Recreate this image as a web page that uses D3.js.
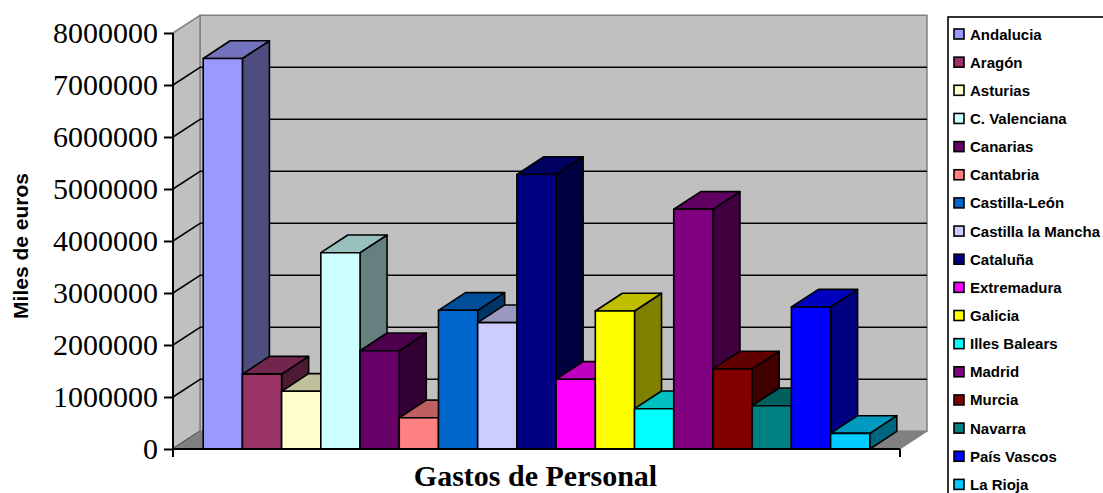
<!DOCTYPE html>
<html>
<head>
<meta charset="utf-8">
<script src="https://cdn.jsdelivr.net/npm/d3@7"></script>
<style>
  body { margin: 0; background: #fff; }
  svg { display: block; }
</style>
</head>
<body>
<div id="chart"></div>
<script>
// data
var regions = ["Andalucia", "Aragón", "Asturias", "C. Valenciana", "Canarias", "Cantabria",
    "Castilla-León", "Castilla la Mancha", "Cataluña", "Extremadura", "Galicia",
    "Illes Balears", "Madrid", "Murcia", "Navarra", "País Vascos", "La Rioja"];
var values = [7510000, 1440000, 1110000, 3775000, 1890000, 600000,
    2667000, 2430000, 5280000, 1340000, 2654000,
    775000, 4610000, 1540000, 833000, 2730000, 300000];
var colors = ["#9999ff", "#993366", "#ffffcc", "#ccffff", "#660066", "#ff8080",
    "#0066cc", "#ccccff", "#000080", "#ff00ff", "#ffff00",
    "#00ffff", "#800080", "#800000", "#008080", "#0000ff", "#00ccff"];
var yTicks = [0, 1000000, 2000000, 3000000, 4000000, 5000000, 6000000, 7000000, 8000000];
var category = "Gastos de Personal";
var yTitle = "Miles de euros";

var width = 1103, height = 493;
var left = 173, right = 900, floorY = 449, topY = 33;
var dx = 27, dy = -17.7; // 3d depth offset

var svg = d3.select("#chart").append("svg")
    .attr("width", width)
    .attr("height", height);

var x = d3.scaleBand()
    .domain(regions)
    .range([left, right])
    .paddingInner(0)
    .paddingOuter(0.77);

var y = d3.scaleLinear()
    .domain([0, 8000000])
    .range([floorY, topY]);

function pts(a) {
    return a.map(function (p) { return p.join(","); }).join(" ");
}
function shade(c, k) {
    var r = d3.rgb(c);
    return d3.rgb(r.r * k, r.g * k, r.b * k).formatHex();
}

// walls
var yMax = y(8000000), y0 = y(0);
svg.append("polygon") // back wall
    .attr("points", pts([[left + dx, yMax + dy], [right + dx, yMax + dy], [right + dx, y0 + dy], [left + dx, y0 + dy]]))
    .attr("fill", "#c0c0c0").attr("stroke", "#808080").attr("stroke-width", 1.5);
svg.append("polygon") // side wall
    .attr("points", pts([[left, yMax], [left + dx, yMax + dy], [left + dx, y0 + dy], [left, y0]]))
    .attr("fill", "#c0c0c0").attr("stroke", "#808080").attr("stroke-width", 1.5);

// gridlines on back and side walls
yTicks.forEach(function (t) {
    if (t > 0 && t < 8000000) {
        svg.append("line")
            .attr("x1", left + dx).attr("x2", right + dx)
            .attr("y1", y(t) + dy).attr("y2", y(t) + dy)
            .attr("stroke", "#000").attr("stroke-width", 1.5);
    }
    if (t < 8000000) {
        svg.append("line")
            .attr("x1", left).attr("x2", left + dx)
            .attr("y1", y(t)).attr("y2", y(t) + dy)
            .attr("stroke", "#000").attr("stroke-width", 1.5);
    }
});

// floor
svg.append("polygon")
    .attr("points", pts([[left, y0], [right, y0], [right + dx, y0 + dy], [left + dx, y0 + dy]]))
    .attr("fill", "#808080").attr("stroke", "#808080").attr("stroke-width", 1);

// bars, left to right so each one covers the side of the previous
var w = x.bandwidth();
var bars = svg.append("g").selectAll("g")
    .data(regions)
    .enter()
    .append("g");

bars.each(function (d, i) {
    var g = d3.select(this);
    var bx = x(d), by = y(values[i]);
    g.append("polygon") // side
        .attr("points", pts([[bx + w, by], [bx + w + dx, by + dy], [bx + w + dx, y0 + dy], [bx + w, y0]]))
        .attr("fill", shade(colors[i], 0.5));
    g.append("polygon") // top
        .attr("points", pts([[bx, by], [bx + w, by], [bx + w + dx, by + dy], [bx + dx, by + dy]]))
        .attr("fill", shade(colors[i], 0.75));
    g.append("rect") // front
        .attr("x", bx).attr("y", by)
        .attr("width", w).attr("height", y0 - by)
        .attr("fill", colors[i]);
    g.selectAll("polygon, rect")
        .attr("stroke", "#000").attr("stroke-width", 1.6)
        .attr("stroke-linejoin", "round");
});

// axes
var yAxis = svg.append("g")
    .attr("transform", "translate(" + left + ",0)")
    .call(d3.axisLeft(y).tickValues(yTicks).tickFormat(d3.format("d")).tickSize(9).tickPadding(6));
yAxis.select(".domain").attr("stroke", "#000").attr("stroke-width", 2)
    .attr("d", "M0," + topY + "V" + (floorY + 8));
yAxis.selectAll(".tick line").attr("stroke", "#000").attr("stroke-width", 2);
yAxis.selectAll("text")
    .style("font-family", "'Liberation Serif', 'Times New Roman', serif")
    .style("font-size", "30px")
    .attr("fill", "#000")
    .attr("dy", "0.33em");

var xAxis = svg.append("g")
    .attr("transform", "translate(0," + floorY + ")");
xAxis.append("line")
    .attr("x1", left).attr("x2", right)
    .attr("stroke", "#000").attr("stroke-width", 2);
[left, right].forEach(function (px) {
    xAxis.append("line")
        .attr("x1", px).attr("x2", px).attr("y1", 0).attr("y2", 8)
        .attr("stroke", "#000").attr("stroke-width", 2);
});

svg.append("text")
    .attr("x", (left + right) / 2 - 1)
    .attr("y", 486)
    .attr("text-anchor", "middle")
    .style("font-family", "'Liberation Serif', 'Times New Roman', serif")
    .style("font-weight", "bold")
    .style("font-size", "30px")
    .text(category);

svg.append("text")
    .attr("transform", "translate(28,246) rotate(-90)")
    .attr("text-anchor", "middle")
    .style("font-family", "'Liberation Sans', Arial, sans-serif")
    .style("font-weight", "bold")
    .style("font-size", "21px")
    .text(yTitle);

// legend
var legend = svg.append("g");
legend.append("rect")
    .attr("x", 948).attr("y", 17)
    .attr("width", 200).attr("height", 520)
    .attr("fill", "#fff").attr("stroke", "#000").attr("stroke-width", 1.6);

var items = legend.selectAll("g.item")
    .data(regions)
    .enter()
    .append("g")
    .attr("class", "item")
    .attr("transform", function (d, i) { return "translate(954," + (34 + i * 28.15) + ")"; });
items.append("rect")
    .attr("x", 0).attr("y", -5)
    .attr("width", 10).attr("height", 10)
    .attr("fill", function (d, i) { return colors[i]; })
    .attr("stroke", "#000").attr("stroke-width", 1.6);
items.append("text")
    .attr("x", 16).attr("y", 5.5)
    .style("font-family", "'Liberation Sans', Arial, sans-serif")
    .style("font-weight", "bold")
    .style("font-size", "15px")
    .text(function (d) { return d; });
</script>
</body>
</html>
